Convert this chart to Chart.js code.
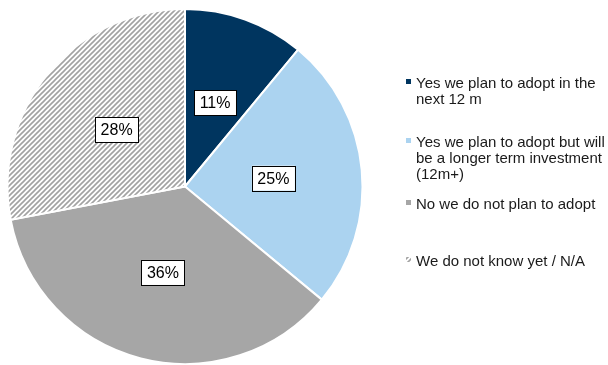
<!DOCTYPE html>
<html>
<head>
<meta charset="utf-8">
<script src="https://cdn.jsdelivr.net/npm/chart.js@4/dist/chart.umd.min.js"></script>
<style>
  html, body { margin: 0; padding: 0; background: #fff; }
</style>
</head>
<body>
<canvas id="myChart" width="608" height="365"></canvas>
<script>
// survey answers, clockwise from 12 o'clock
const answers = [
  ["Yes we plan to adopt in the", "next 12 m"],
  ["Yes we plan to adopt but will", "be a longer term investment", "(12m+)"],
  ["No we do not plan to adopt"],
  ["We do not know yet / N/A"],
];
const shares = [11, 25, 36, 28];

// diagonal hatch used for the "don't know" slice
function makeHatch() {
  const size = 5;
  const c = document.createElement("canvas");
  c.width = size;
  c.height = size;
  const g = c.getContext("2d");
  g.fillStyle = "#ffffff";
  g.fillRect(0, 0, size, size);
  g.strokeStyle = "#a2a2a2";
  g.lineWidth = 1.6;
  g.beginPath();
  g.moveTo(-1, size + 1);
  g.lineTo(size + 1, -1);
  g.moveTo(-1, 1);
  g.lineTo(1, -1);
  g.moveTo(size - 1, size + 1);
  g.lineTo(size + 1, size - 1);
  g.stroke();
  return g.createPattern(c, "repeat");
}

const ctx = document.getElementById("myChart").getContext("2d");
const hatch = makeHatch();
const colors = ["#00355f", "#abd3f0", "#a6a6a6", hatch];

// white boxed percentage on each slice
const boxLabels = {
  id: "boxLabels",
  afterDatasetsDraw(chart) {
    const c = chart.ctx;
    const arcs = chart.getDatasetMeta(0).data;
    c.save();
    c.font = "16px 'Liberation Sans', Arial, sans-serif";
    c.textAlign = "center";
    c.textBaseline = "middle";
    arcs.forEach((arc, i) => {
      const p = arc.tooltipPosition();
      const txt = shares[i] + "%";
      const w = c.measureText(txt).width + 11;
      const h = 25;
      c.fillStyle = "#ffffff";
      c.fillRect(p.x - w / 2, p.y - h / 2, w, h);
      c.strokeStyle = "#000000";
      c.lineWidth = 1;
      c.strokeRect(Math.round(p.x - w / 2) + 0.5, Math.round(p.y - h / 2) + 0.5, Math.round(w), h);
      c.fillStyle = "#000000";
      c.fillText(txt, p.x, p.y + 1);
    });
    c.restore();
  },
};

// legend on the right, small square markers
const sideLegend = {
  id: "sideLegend",
  afterDraw(chart) {
    const c = chart.ctx;
    const baselines = [88, 147, 209, 266];
    const lineH = 16;
    c.save();
    c.font = "15px 'Liberation Sans', Arial, sans-serif";
    c.textAlign = "left";
    c.textBaseline = "alphabetic";
    answers.forEach((lines, i) => {
      const y0 = baselines[i];
      c.fillStyle = colors[i];
      c.fillRect(406, y0 - 9, 5, 5);
      c.fillStyle = "#1a1a1a";
      lines.forEach((t, j) => c.fillText(t, 416, y0 + j * lineH));
    });
    c.restore();
  },
};

const myChart = new Chart(ctx, {
  type: "pie",
  data: {
    labels: answers.map((a) => a.join(" ")),
    datasets: [
      {
        data: shares,
        backgroundColor: colors,
        borderColor: "#ffffff",
        borderWidth: 2,
      },
    ],
  },
  options: {
    responsive: false,
    animation: false,
    layout: {
      padding: { left: 6, top: 8, right: 244, bottom: 0 },
    },
    plugins: {
      legend: { display: false },
      tooltip: { enabled: false },
    },
  },
  plugins: [boxLabels, sideLegend],
});
</script>
</body>
</html>
